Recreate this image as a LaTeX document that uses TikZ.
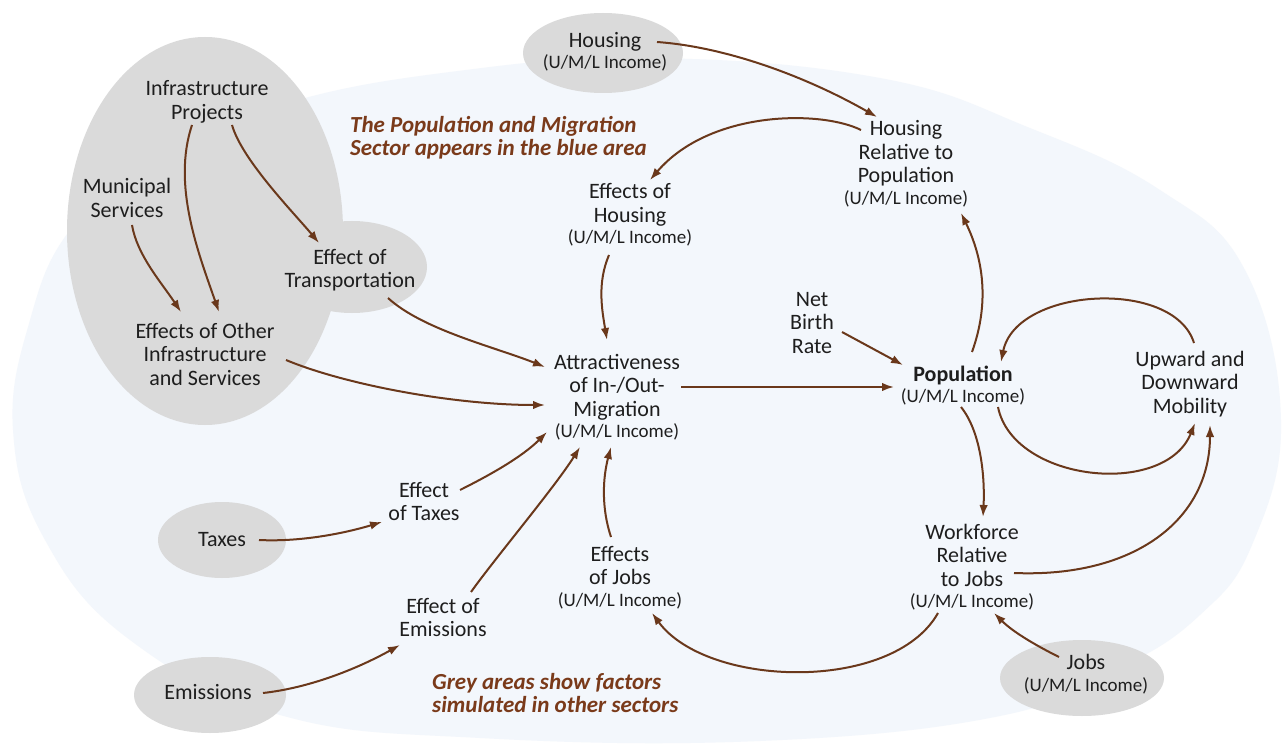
\documentclass[tikz,border=0pt]{standalone}
\usepackage{fontspec}
\setmainfont{Carlito}
\usetikzlibrary{arrows.meta}
\definecolor{arr}{HTML}{6A381B}
\definecolor{notec}{HTML}{7A3A1A}
\definecolor{greyf}{HTML}{DADADA}
\definecolor{bluef}{HTML}{F3F7FC}
\definecolor{txt}{HTML}{1E1E1E}
\newcommand\umlinc{{\fontsize{19}{22}\selectfont (U/M/L Income)}}
\begin{document}
\begin{tikzpicture}[x=1pt,y=-1pt,
  lbl/.style={align=center, anchor=base, inner sep=0pt, font=\fontsize{22}{23.5}\selectfont, text=txt},
  note/.style={align=left, anchor=base west, inner sep=0pt, font=\fontsize{23}{23}\selectfont\bfseries\itshape, text=notec},
  conn/.style={draw=arr, line width=2pt, -{Latex[length=12pt,width=8.5pt]}}]
\useasboundingbox (0,0) rectangle (1283,746);
\fill[white] (0,0) rectangle (1283,746);
% blue sector area
\fill[bluef] plot[smooth cycle, tension=0.7] coordinates {
  (13,430) (30,320) (70,230) (150,160) (280,105) (450,72) (650,58) (880,78)
  (1030,128) (1160,190) (1245,270) (1281,420) (1252,545) (1200,615) (1120,668)
  (1000,716) (760,741) (480,738) (280,715) (130,640) (45,540)};
% grey areas
\fill[greyf] (205,231) ellipse [x radius=138pt, y radius=194pt];
\fill[greyf] (352,267) ellipse [x radius=75pt, y radius=46pt];
\fill[greyf] (603,53) ellipse [x radius=80pt, y radius=40pt];
\fill[greyf] (222,540) ellipse [x radius=64pt, y radius=38pt];
\fill[greyf] (210,695) ellipse [x radius=76pt, y radius=38pt];
\fill[greyf] (1082,678) ellipse [x radius=82pt, y radius=38pt];
% labels (anchored at the baseline of their last line)
\node[lbl] (infra) at (207,119.5) {Infrastructure\\Projects};
\node[lbl] (muni) at (127,217.5) {Municipal\\Services};
\node[lbl] (etrans) at (350,287.5) {Effect of\\Transportation};
\node[lbl] (eother) at (205,385) {Effects of Other\\Infrastructure\\and Services};
\node[note] (note1) at (350,156) {The Population and Migration\\Sector appears in the blue area};
\node[lbl] (housing) at (605,68.5) {Housing\\[-3pt]\umlinc};
\node[lbl] (ehousing) at (630,244) {Effects of\\Housing\\[-2pt]\umlinc};
\node[lbl] (hrel) at (906,204.5) {Housing\\Relative to\\Population\\[-2pt]\umlinc};
\node[lbl] (nbr) at (812,353) {Net\\Birth\\Rate};
\node[lbl] (attr) at (617,437.5) {Attractiveness\\of In-/Out-\\Migration\\[-2pt]\umlinc};
\node[lbl] (pop) at (963,402.5) {\textbf{Population}\\[-2pt]\umlinc};
\node[lbl] (upward) at (1190,413) {Upward and\\Downward\\Mobility};
\node[lbl] (etaxes) at (424,520.5) {Effect\\of Taxes};
\node[lbl] (taxes) at (222,546) {Taxes};
\node[lbl] (ejobs) at (620,606) {Effects\\of Jobs\\[-2pt]\umlinc};
\node[lbl] (workforce) at (972,607.5) {Workforce\\Relative\\to Jobs\\[-2pt]\umlinc};
\node[lbl] (eem) at (443,636.5) {Effect of\\Emissions};
\node[lbl] (emissions) at (208,699) {Emissions};
\node[note] (note2) at (432,712) {Grey areas show factors\\simulated in other sectors};
\node[lbl] (jobs) at (1086,691.5) {Jobs\\[-1pt]\umlinc};
% connectors
\draw[conn] ([shift={(-15,5.5)}]infra.base) .. controls +(-20,60) and +(-21,-60) .. ([shift={(14,-73)}]eother.base);
\draw[conn] ([shift={(25,5.5)}]infra.base) .. controls +(10,35) and +(-25,-30) .. ([shift={(-31,-44.5)}]etrans.base);
\draw[conn] ([shift={(5,7.5)}]muni.base) .. controls +(5,30) and +(-20,-30) .. ([shift={(-24,-73)}]eother.base);
\draw[conn] ([shift={(38,10.5)}]etrans.base) .. controls +(35,32) and +(-50,-20) .. ([shift={(-72,-70.5)}]attr.base);
\draw[conn] ([shift={(81,-25)}]eother.base) .. controls +(60,25) and +(-90,0) .. ([shift={(-72,-32.5)}]attr.base);
\draw[conn] ([shift={(-21,11)}]ehousing.base) .. controls +(-12,28) and +(-5,-30) .. ([shift={(-10,-97.5)}]attr.base);
\draw[conn] ([shift={(-45,-74.5)}]hrel.base) .. controls +(-40,-20) and +(60,-70) .. ([shift={(20,-64)}]ehousing.base);
\draw[conn] ([shift={(52,-26.5)}]housing.base) .. controls +(70,5) and +(-70,-40) .. ([shift={(-29,-87.5)}]hrel.base);
\draw[conn] ([shift={(9,-50.5)}]pop.base) .. controls +(18,-50) and +(22,45) .. ([shift={(55,8.5)}]hrel.base);
\draw[conn] ([shift={(30,-21)}]nbr.base) -- ([shift={(-60,-37.5)}]pop.base);
\draw[conn] ([shift={(64,-50.5)}]attr.base) -- ([shift={(-69,-15.5)}]pop.base);
\draw[conn] ([shift={(4,-70)}]upward.base) .. controls +(-20,-65) and +(15,-75) .. ([shift={(38,-40.5)}]pop.base);
\draw[conn] ([shift={(35,4.5)}]pop.base) .. controls +(15,75) and +(-30,75) .. ([shift={(5,10)}]upward.base);
\draw[conn] ([shift={(-2,4.5)}]pop.base) .. controls +(20,25) and +(2,-40) .. ([shift={(11,-90.5)}]workforce.base);
\draw[conn] ([shift={(42,-34.5)}]workforce.base) .. controls +(120,5) and +(0,95) .. ([shift={(20,12)}]upward.base);
\draw[conn] ([shift={(-34,5.5)}]workforce.base) .. controls +(-45,80) and +(55,75) .. ([shift={(32,7)}]ejobs.base);
\draw[conn] ([shift={(-27,-34.5)}]jobs.base) .. controls +(-20,-10) and +(20,20) .. ([shift={(22,5.5)}]workforce.base);
\draw[conn] ([shift={(-9,-69)}]ejobs.base) .. controls +(-10,-30) and +(-8,30) .. ([shift={(-6,9.5)}]attr.base);
\draw[conn] ([shift={(36,-30.5)}]etaxes.base) .. controls +(30,-15) and +(-25,25) .. ([shift={(-70,-5.5)}]attr.base);
\draw[conn] ([shift={(37,-6)}]taxes.base) .. controls +(40,2) and +(-40,12) .. ([shift={(-42,1.5)}]etaxes.base);
\draw[conn] ([shift={(28,-44.5)}]eem.base) .. controls +(25,-35) and +(-25,40) .. ([shift={(-37,9.5)}]attr.base);
\draw[conn] ([shift={(55,-6)}]emissions.base) .. controls +(45,-5) and +(-45,25) .. ([shift={(-43,8.5)}]eem.base);
\end{tikzpicture}
\end{document}
